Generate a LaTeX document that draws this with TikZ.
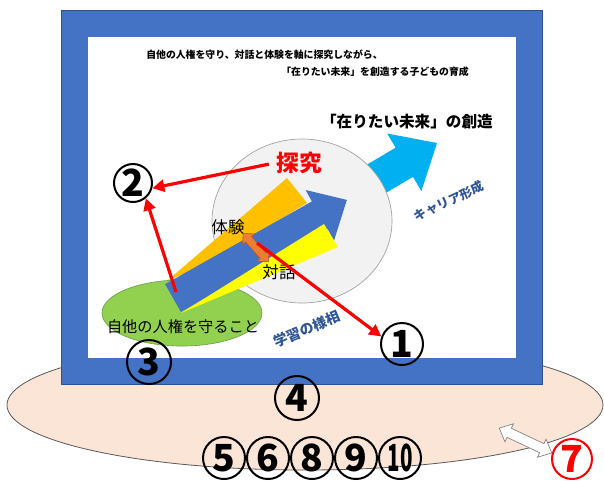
\documentclass[tikz,border=0pt]{standalone}
\usepackage{fontspec}
\usepackage{graphicx}
\newfontfamily\jp{Noto Sans CJK JP}
\usetikzlibrary{arrows.meta}
\definecolor{frameblue}{RGB}{68,114,196}
\definecolor{frameedge}{RGB}{47,82,143}
\definecolor{peach}{RGB}{251,229,214}
\definecolor{ellipseedge}{RGB}{89,89,89}
\definecolor{cyanarrow}{RGB}{0,176,240}
\definecolor{lightgray}{RGB}{242,242,242}
\definecolor{circleedge}{RGB}{160,160,160}
\definecolor{greenfill}{RGB}{146,208,80}
\definecolor{greenedge}{RGB}{112,160,80}
\definecolor{orangeband}{RGB}{255,192,0}
\definecolor{yellowband}{RGB}{255,255,0}
\definecolor{orangearrow}{RGB}{237,125,49}
\definecolor{orangeedge}{RGB}{174,90,33}
\definecolor{labelblue}{RGB}{47,85,151}
\definecolor{redline}{RGB}{255,0,0}
\begin{document}
\begin{tikzpicture}[x=0.75pt,y=-0.75pt,font=\jp,
  num/.style={circle,draw,line width=1.5pt,inner sep=0pt,font=\jp\bfseries\fontsize{28}{28}\selectfont},
  redarrow/.style={draw=redline,line width=2.4pt,-{Triangle[length=9pt,width=9pt]}},
  lbl/.style={inner sep=0pt}]
\useasboundingbox (0,0) rectangle (604,480);
\fill[white] (0,0) rectangle (604,480);
% base ellipse
\draw[fill=peach,draw=ellipseedge,line width=0.6pt] (305,405) ellipse [x radius=223.5pt,y radius=48.75pt];
% frame
\draw[fill=frameblue,draw=frameedge,line width=0.5pt] (61,10) rectangle (542,384);
\fill[white] (88,37) rectangle (516,358);
% titles
\node[lbl,anchor=west,font=\jp\bfseries\fontsize{7.4}{8}\selectfont] (title1) at (146,55) {自他の人権を守り、対話と体験を軸に探究しながら、};
\node[lbl,anchor=east,font=\jp\bfseries\fontsize{7.4}{8}\selectfont] (title2) at (469,72) {「在りたい未来」を創造する子どもの育成};
\node[lbl,anchor=east,font=\jp\bfseries\fontsize{11.7}{13}\selectfont] (future) at (493,122) {「在りたい未来」の創造};
% cyan arrow
\fill[cyanarrow] (335.4,183.3) -- (395.6,147.7) -- (387.2,133.5) -- (437,143) -- (421.4,191.1) -- (413,176.9) -- (352.6,212.5) -- cycle;
% gray circle
\draw[fill=lightgray,draw=circleedge,line width=0.5pt] (302,221) ellipse [x radius=67.5pt,y radius=61.5pt];
% green ellipse
\draw[fill=greenfill,draw=greenedge,line width=0.5pt] (182,313) ellipse [x radius=60pt,y radius=24.75pt];
% orange wedge
\fill[orangeband] (168,280) -- (287,178) -- (307,203) -- (200,268) -- cycle;
% blue arrow
\fill[frameblue] (165.1,284.1) -- (311.9,201.4) -- (305.6,190.0) -- (346.9,199.9) -- (334.0,240.6) -- (327.7,229.2) -- (180.9,311.9) -- cycle;
% yellow wedge
\fill[yellowband] (181,313) -- (338,247) -- (324,224) -- cycle;
% labels
\node[lbl,font=\jp\fontsize{12.4}{13}\selectfont] (taiken) at (228,227) {体験};
\node[lbl,font=\jp\fontsize{12.4}{13}\selectfont] (taiwa) at (279,272) {対話};
% small orange double arrow
\begin{scope}[shift={(255.8,247.5)},rotate=-48.6]
\draw[fill=orangearrow,draw=orangeedge,line width=0.4pt] (-19,0) -- (-11,8) -- (-11,4) -- (11,4) -- (11,8) -- (19,0) -- (11,-8) -- (11,-4) -- (-11,-4) -- (-11,-8) -- cycle;
\end{scope}
\coordinate (dbl) at (257,243);
\node[lbl,font=\jp\fontsize{11.4}{12}\selectfont] (rights) at (183,327) {自他の人権を守ること};
\node[lbl,text=redline,font=\jp\bfseries\fontsize{17}{18}\selectfont] (tankyu) at (299.5,162.5) {探究};
\node[lbl,text=labelblue,rotate=25,font=\jp\bfseries\fontsize{9.4}{10}\selectfont] (career) at (449,201) {キャリア形成};
\node[lbl,text=labelblue,rotate=23,font=\jp\bfseries\fontsize{10.5}{11}\selectfont] (aspect) at (307,329) {学習の様相};
% circled numbers
\node[num,minimum size=31.5pt] (c1) at (402,344) {1};
\node[num,minimum size=28.5pt] (c2) at (133,183) {2};
\node[num,minimum size=33pt] (c3) at (149,362) {3};
\node[num,minimum size=33pt] (c4) at (297,398) {4};
\node[num,minimum size=31.5pt] (c5) at (224,458) {5};
\node[num,minimum size=31.5pt] (c6) at (268,458) {6};
\node[num,minimum size=31.5pt] (c8) at (312,458) {8};
\node[num,minimum size=31.5pt] (c9) at (356,458) {9};
\node[num,minimum size=31.5pt] (c10) at (400,458) {\scalebox{0.55}[1]{10}};
\node[num,minimum size=30pt,draw=redline,text=redline] (c7) at (572,459) {7};
% red arrows
\coordinate (tail) at (176,292);
\draw[redarrow,shorten <=6pt] (tankyu.west) -- (c2.-15);
\draw[redarrow] (tail) -- (c2.-50);
\draw[redarrow] (dbl) -- (c1.160);
% white double arrow
\begin{scope}[shift={(525.5,440.5)},rotate=-25.3]
\draw[fill=white,draw=gray,line width=0.5pt] (-29,0) -- (-18,10) -- (-18,5) -- (18,5) -- (18,10) -- (29,0) -- (18,-10) -- (18,-5) -- (-18,-5) -- (-18,-10) -- cycle;
\end{scope}
\end{tikzpicture}
\end{document}
